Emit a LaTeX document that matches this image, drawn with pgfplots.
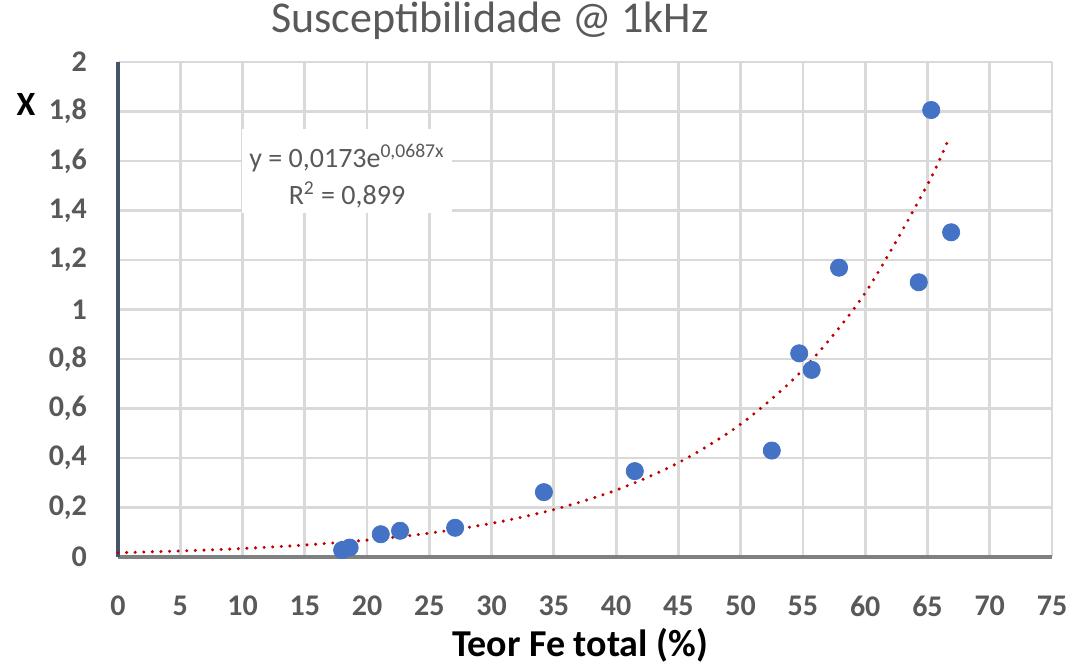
\documentclass[border=0pt]{standalone}
\usepackage{pgfplots}
\pgfplotsset{compat=1.18}
\usepackage{fontspec}
\setmainfont{Carlito}
\definecolor{ptblue}{HTML}{4472C4}
\definecolor{trendred}{HTML}{C00000}
\definecolor{txtgray}{HTML}{595959}
\definecolor{gridgray}{HTML}{D9D9D9}
\definecolor{yaxcol}{HTML}{44546A}
\definecolor{xaxcol}{HTML}{808080}
\begin{document}
\begin{tikzpicture}
\useasboundingbox (-59pt,-56pt) rectangle (479pt,278.5pt);
\begin{axis}[
  scale only axis,
  width=467pt, height=247.5pt,
  xmin=0, xmax=75, ymin=0, ymax=2,
  xtick={0,5,...,75},
  ytick={0,0.2,...,2.01},
  axis x line*=bottom,
  axis y line*=left,
  x axis line style={draw=xaxcol, line width=2pt, -},
  y axis line style={draw=yaxcol, line width=2pt, -},
  major tick length=0pt,
  grid=major,
  grid style={draw=gridgray, line width=1.4pt},
  /pgf/number format/use comma,
  /pgf/number format/assume math mode=true,
  ticklabel style={font=\bfseries\fontsize{15}{17}\selectfont, text=txtgray},
  xticklabel style={yshift=-16pt},
  yticklabel style={xshift=-12pt},
  clip=false,
]
\addplot[draw=trendred, line width=1.7pt, line cap=round, dash pattern=on 0pt off 4.3pt, smooth, no marks]
coordinates {
(0,0.0173) (5,0.02439) (10,0.03439) (15,0.04848) (20,0.06836) (25,0.09637)
(30,0.13587) (35,0.19156) (40,0.27009) (45,0.38079) (50,0.5368) (55,0.7569)
(60,1.0671) (65,1.5046) (66.8,1.702)
};
\addplot[only marks, mark=*, mark size=4.3pt, mark options={fill=ptblue, draw=ptblue}]
coordinates {
(18.0,0.028) (18.6,0.038) (21.1,0.092) (22.65,0.106) (27.07,0.118)
(34.2,0.262) (41.5,0.347) (52.5,0.43) (54.7,0.823) (55.7,0.756)
(57.9,1.169) (64.3,1.11) (65.3,1.806) (66.9,1.312)
};
\end{axis}
\fill[white] (62pt,172pt) rectangle (167pt,214pt);
\node[text=txtgray, font=\fontsize{14}{16}\selectfont] at (114.5pt,199.5pt) {y = 0,0173e\textsuperscript{0,0687x}};
\node[text=txtgray, font=\fontsize{14}{16}\selectfont] at (114.5pt,181pt) {R\textsuperscript{2} = 0,899};
\node[text=txtgray, font=\fontsize{22}{26}\selectfont] at (186pt,268pt) {Susceptibilidade @ 1kHz};
\node[text=black, font=\bfseries\fontsize{19}{22}\selectfont] at (231pt,-44pt) {Teor Fe total (\%)};
\node[text=black, font=\bfseries\fontsize{17}{20}\selectfont] at (-46pt,226.5pt) {X};
\end{tikzpicture}
\end{document}
